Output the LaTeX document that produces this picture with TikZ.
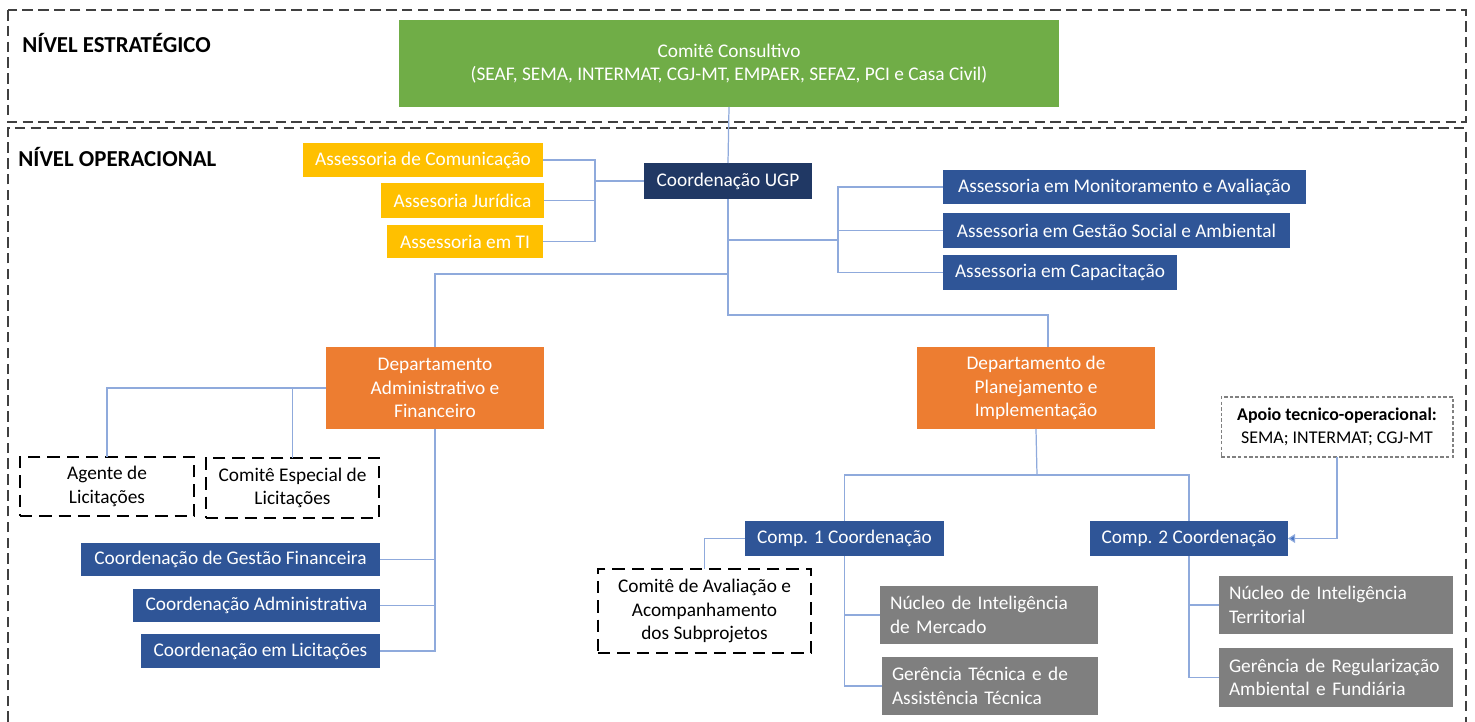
\documentclass[tikz,border=0pt]{standalone}
\usepackage{fontspec}
\setmainfont{Carlito}
\usetikzlibrary{arrows.meta}

\definecolor{comitegreen}{HTML}{70AD47}
\definecolor{deptorange}{HTML}{ED7D31}
\definecolor{assyellow}{HTML}{FFC000}
\definecolor{coordblue}{HTML}{2F5597}
\definecolor{ugpnavy}{HTML}{203864}
\definecolor{nucleogrey}{HTML}{7F7F7F}
\definecolor{linkblue}{HTML}{8FAADC}
\definecolor{arrowblue}{HTML}{4472C4}
\definecolor{framegrey}{HTML}{404040}

\begin{document}
\begin{tikzpicture}[
    x=0.02cm, y=-0.02cm,
    font=\fontsize{11}{13.5}\selectfont,
 unit/.style = {
        rectangle, align=center, text=white,
        inner sep=2pt, outer sep=0pt},
 comitebox/.style = {unit, fill=comitegreen},
 ugpbox/.style    = {unit, fill=ugpnavy},
 yellowbox/.style = {unit, fill=assyellow},
 bluebox/.style   = {unit, fill=coordblue},
 orangebox/.style = {unit, fill=deptorange},
 greybox/.style   = {unit, fill=nucleogrey, align=left,
        inner xsep=0.2cm, text width=#1},
 dashbox/.style   = {
        rectangle, align=center, draw=black, line width=1.5pt,
        dash pattern=on 7pt off 4pt, inner sep=2pt, outer sep=0pt},
 apoiobox/.style  = {
        rectangle, align=center, draw=gray, line width=0.6pt,
        dash pattern=on 2pt off 1.2pt, inner sep=2pt, outer sep=0pt,
        font=\fontsize{10.2}{13.5}\selectfont},
 leveltitle/.style = {
        font=\fontsize{13}{15}\selectfont\bfseries,
        anchor=west, inner sep=0pt},
 frame/.style = {draw=framegrey, line width=1.1pt,
        dash pattern=on 6pt off 3pt},
 link/.style  = {draw=linkblue, line width=0.7pt},
 arrow/.style = {link, -{Triangle[width=5pt,length=4pt,fill=arrowblue]}}
                    ]
\useasboundingbox (0,0) rectangle (1475,722);
% the two levels
\draw[frame] (8,10) rectangle (1466,122);
\draw[frame] (8,722) |- (1466,128) -- (1466,722);
\node[leveltitle] (tstrat) at (22,43)  {NÍVEL ESTRATÉGICO};
\node[leveltitle] (toper)  at (18,157) {NÍVEL OPERACIONAL};

% the top of the chart
\node (comite) [comitebox, minimum width=13.2cm, minimum height=1.74cm]
        at (729,63.5) {Comitê Consultivo\\
        (SEAF, SEMA, INTERMAT, CGJ-MT, EMPAER, SEFAZ, PCI e Casa Civil)};
\node (ugp)  [ugpbox, minimum width=3.36cm, minimum height=0.72cm]
        at (728,181) {Coordenação UGP};

% the advisers on the left
\node (acom) [yellowbox, minimum width=4.8cm, minimum height=0.68cm]
        at (423,160) {Assessoria de Comunicação};
\node (ajur) [yellowbox, minimum width=3.26cm, minimum height=0.7cm]
        at (462.5,200.5) {Assesoria Jurídica};
\node (ati)  [yellowbox, minimum width=3.12cm, minimum height=0.66cm]
        at (465,241.5) {Assessoria em TI};

% the advisers on the right
\node (amon) [bluebox, minimum width=7.26cm, minimum height=0.68cm]
        at (1124.5,187) {Assessoria em Monitoramento e Avaliação};
\node (agsa) [bluebox, minimum width=6.94cm, minimum height=0.7cm]
        at (1116.5,230.5) {Assessoria em Gestão Social e Ambiental};
\node (acap) [bluebox, minimum width=4.68cm, minimum height=0.7cm]
        at (1060,272.5) {Assessoria em Capacitação};

% the two departments
\node (daf) [orangebox, minimum width=4.36cm, minimum height=1.64cm]
        at (435,388) {Departamento\\ Administrativo e\\ Financeiro};
\node (dpi) [orangebox, minimum width=4.76cm, minimum height=1.64cm]
        at (1036,388) {Departamento de\\ Planejamento e\\ Implementação};

% under the administrative department
\node (agente) [dashbox, minimum width=3.48cm, minimum height=1.18cm]
        at (107,486.5) {Agente de\\ Licitações};
\node (cel)    [dashbox, minimum width=3.46cm, minimum height=1.2cm]
        at (292.5,488) {Comitê Especial de\\ Licitações};
\node (cgf)  [bluebox, minimum width=5.98cm, minimum height=0.66cm]
        at (230.5,559.5) {Coordenação de Gestão Financeira};
\node (cad)  [bluebox, minimum width=4.94cm, minimum height=0.66cm]
        at (256.5,605.5) {Coordenação Administrativa};
\node (clic) [bluebox, minimum width=4.78cm, minimum height=0.68cm]
        at (260.5,651) {Coordenação em Licitações};

% under the planning department
\node (comp1) [bluebox, minimum width=3.98cm, minimum height=0.7cm]
        at (844.5,538.5) {Comp. 1 Coordenação};
\node (comp2) [bluebox, minimum width=3.96cm, minimum height=0.7cm]
        at (1189,538.5) {Comp. 2 Coordenação};
\node (apoio) [apoiobox, minimum width=4.64cm, minimum height=1.2cm]
        at (1337,427) {\textbf{Apoio tecnico-operacional:}\\
                        SEMA; INTERMAT; CGJ-MT};
\node (caa)   [dashbox, minimum width=4.26cm, minimum height=1.68cm]
        at (704.5,611) {Comitê de Avaliação e\\ Acompanhamento\\
                        dos Subprojetos};
\node (nim) [greybox=3.96cm, minimum height=1.16cm]
        at (989,615) {Núcleo de Inteligência\\ de Mercado};
\node (gta) [greybox=3.92cm, minimum height=1.16cm]
        at (990,686) {Gerência Técnica e de\\ Assistência Técnica};
\node (nit) [greybox=4.28cm, minimum height=1.16cm]
        at (1336,605) {Núcleo de Inteligência\\ Territorial};
\node (gra) [greybox=4.28cm, minimum height=1.18cm]
        at (1336,677.5) {Gerência de Regularização\\ Ambiental e Fundiária};

% junctions
\coordinate (yj) at (595,181);
\coordinate (mj) at (728,240);
\coordinate (rj) at (838,240);
\coordinate (lj) at (728,274);
\coordinate (pj) at (728,315);
\coordinate (cj) at (1037,475);

% lines
\draw[link] (comite.south) -- (ugp.north);
\draw[link] (ugp.west) -- (yj);
\draw[link] (acom.east) -| (yj);
\draw[link] (ajur.east) -| (yj);
\draw[link] (ati.east)  -| (yj);
\draw[link] (ugp.south) -- (pj) -| ([xshift=0.24cm] dpi.north);
\draw[link] (mj) -- (rj);
\draw[link] (amon.west) -| (rj);
\draw[link] (agsa.west) -| (rj);
\draw[link] (acap.west) -| (rj);
\draw[link] (lj) -| (daf.north);
\draw[link] (daf.west) -| (agente.north);
\draw[link] (cel.north) |- (daf.west);
\draw[link] (daf.south) |- (clic.east);
\draw[link] (cgf.east) -| (daf.south);
\draw[link] (cad.east) -| (daf.south);
\draw[link] (dpi.south) -- (cj);
\draw[link] (comp1.north) |- (cj) -| (comp2.north);
\draw[link] (comp1.west) -| (caa.north);
\draw[link] (comp1.south) |- (gta.west);
\draw[link] (nim.west) -| (comp1.south);
\draw[link] (comp2.south) |- (gra.west);
\draw[link] (nit.west) -| (comp2.south);
\draw[arrow] (apoio.south) |- (comp2.east);
\end{tikzpicture}
\end{document}
